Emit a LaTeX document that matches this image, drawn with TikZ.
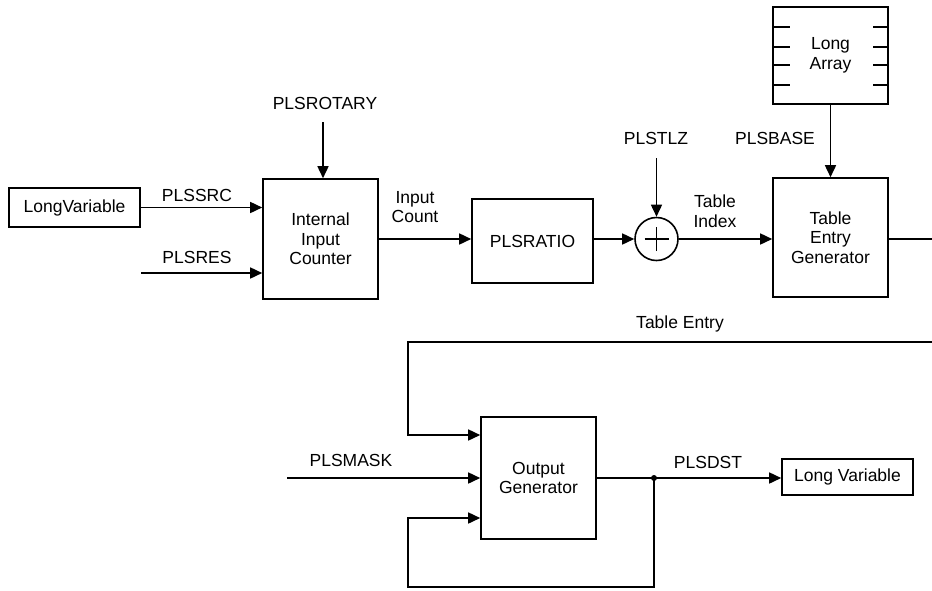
\documentclass[tikz,border=0pt]{standalone}
\usepackage{fontspec}
\setmainfont{Liberation Sans}
\usetikzlibrary{arrows.meta}
\begin{document}
\begin{tikzpicture}[x=1pt,y=-1pt,
  every node/.style={font=\fontsize{17.5}{19.5}\selectfont, inner sep=0pt},
  blk/.style={draw, line width=1.6pt, align=center},
  lbl/.style={align=center},
  wire/.style={line width=1.6pt},
  arr/.style={line width=1.6pt, -{Triangle[length=12pt,width=11pt]}},
  dot/.style={circle, fill, minimum size=6pt, inner sep=0pt}]
\useasboundingbox (0,0) rectangle (932,590);

% boxes
\node[blk, minimum width=131pt, minimum height=39pt] (lv1) at (74.5,207.5) {LongVariable};
\node[blk, minimum width=115pt, minimum height=120pt] (iic) at (320.5,239) {Internal\\Input\\Counter};
\node[blk, minimum width=121pt, minimum height=84pt] (ratio) at (532.5,241) {PLSRATIO};
\node[draw, circle, line width=1.6pt, minimum size=43pt] (sum) at (656.5,239) {};
\node[blk, minimum width=115pt, minimum height=119pt] (teg) at (830.5,237.5) {Table\\Entry\\Generator};
\node[blk, minimum width=115pt, minimum height=97pt] (la) at (830.5,55.5) {Long\\Array};
\node[blk, minimum width=115pt, minimum height=122pt] (og) at (538.5,478) {Output\\Generator};
\node[blk, minimum width=131pt, minimum height=36pt] (lv2) at (847.5,477) {Long Variable};

% plus sign
\draw[line width=1.2pt] ([xshift=-12pt]sum.center) -- ([xshift=12pt]sum.center);
\draw[line width=1.2pt] ([yshift=-12pt]sum.center) -- ([yshift=12pt]sum.center);

% long array ticks
\foreach \yy in {27,47,65,85}{
  \draw[wire] (la.west |- 0,\yy) -- ++(18,0);
  \draw[wire] (la.east |- 0,\yy) -- ++(-16,0);
}

% free ends
\coordinate (resin) at (141,273);
\coordinate (rotin) at (323,122);
\coordinate (tlzin) at (656.5,158);
\coordinate (tegout) at (932,239);
\coordinate (tein) at (932,342);
\coordinate (tecorner) at (408,342);
\coordinate (maskin) at (287,478);
\coordinate (junc) at (654,478);
\coordinate (fb1) at (654,587);
\coordinate (fb2) at (408,587);

% labels
\node[lbl] (l_src) at (197,195) {PLSSRC};
\node[lbl] (l_res) at (197,257) {PLSRES};
\node[lbl] (l_rot) at (325,103) {PLSROTARY};
\node[lbl] (l_ic) at (415,207) {Input\\Count};
\node[lbl] (l_tlz) at (656,138) {PLSTLZ};
\node[lbl] (l_ti) at (715,211) {Table\\Index};
\node[lbl] (l_base) at (775,138) {PLSBASE};
\node[lbl] (l_te) at (680,324) {Table Entry};
\node[lbl] (l_mask) at (351,460) {PLSMASK};
\node[lbl] (l_dst) at (708,462) {PLSDST};

% connectors
\draw[arr] (lv1.east) -- (lv1.east -| iic.west);
\draw[arr] (resin) -- (resin -| iic.west);
\draw[arr] (rotin) -- (rotin |- iic.north);
\draw[arr] (iic.east) -- (iic.east -| ratio.west);
\draw[arr] (sum.west -| ratio.east) -- (sum.west);
\draw[arr] (tlzin) -- (sum.north);
\draw[arr] (sum.east) -- (sum.east -| teg.west);
\draw[arr] (la.south) -- (teg.north);
\draw[wire] (tegout -| teg.east) -- (tegout);
\draw[arr] (tein) -- (tecorner) -- (tecorner |- 0,435) -- (og.west |- 0,435);
\draw[arr] (maskin) -- (og.west);
\draw[wire] (og.east) -- (junc);
\draw[arr] (junc) -- (junc -| lv2.west);
\draw[arr] (junc) -- (fb1) -- (fb2) -- (fb2 |- 0,518) -- (og.west |- 0,518);
\node[dot] (jdot) at (junc) {};
\end{tikzpicture}
\end{document}
